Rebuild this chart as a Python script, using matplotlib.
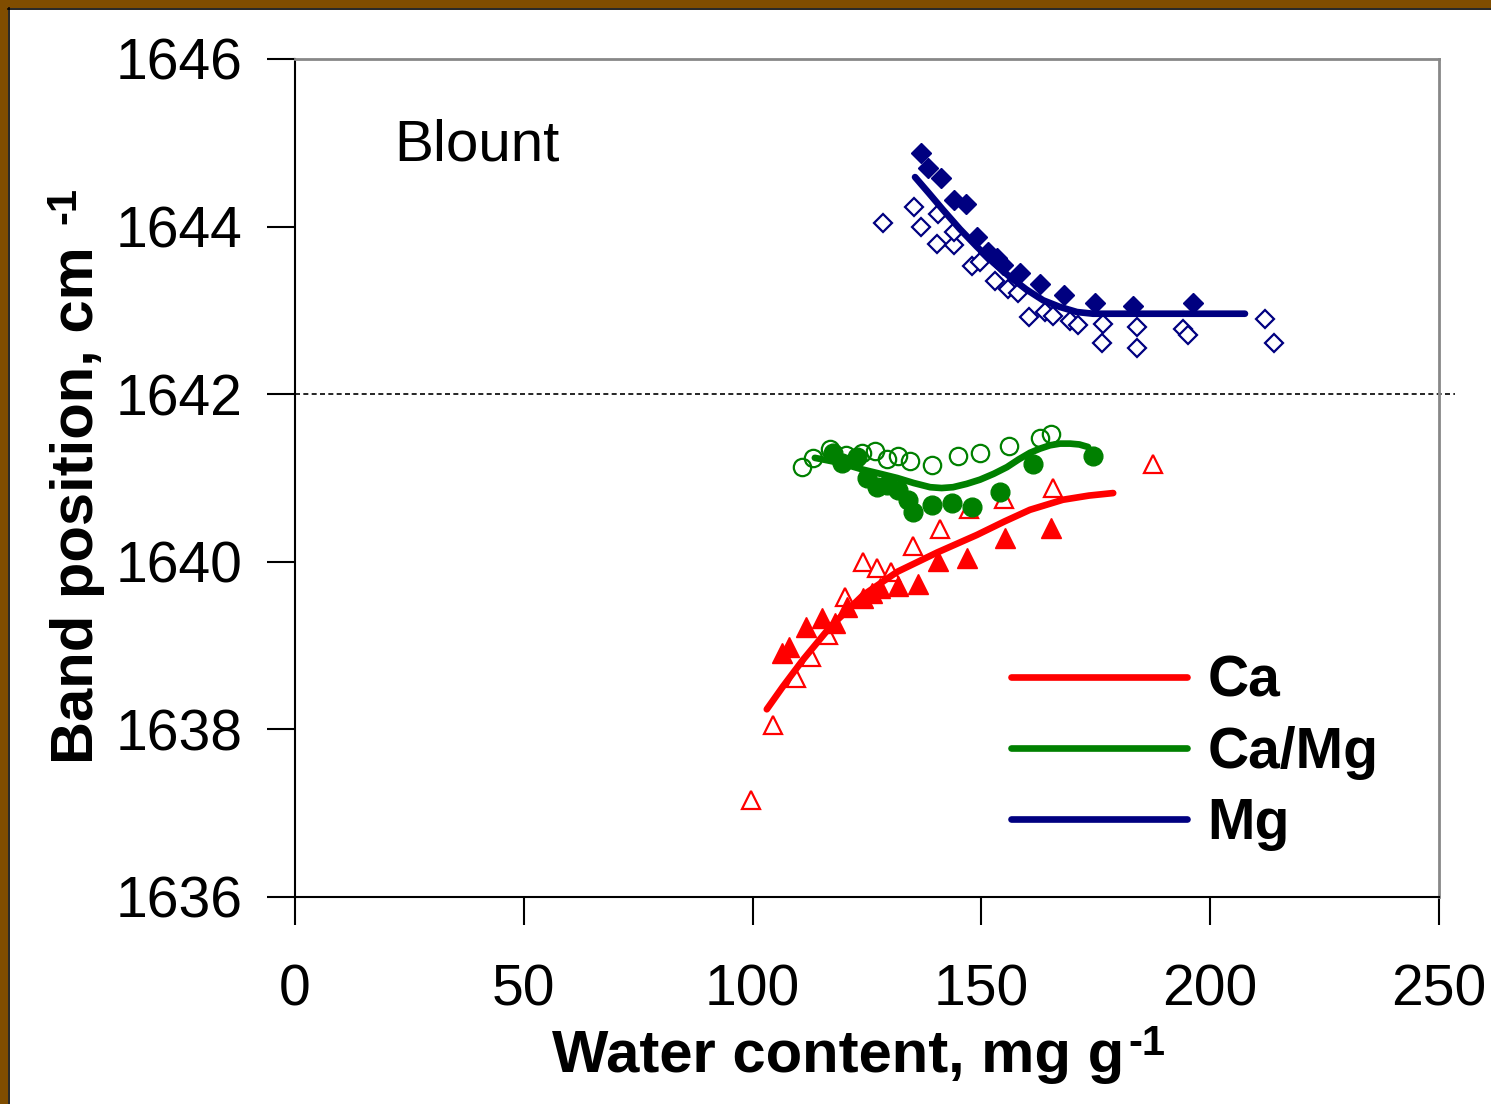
import numpy as np
import matplotlib.pyplot as plt
from matplotlib.patches import Rectangle

plt.rcParams['font.family'] = ['Liberation Sans', 'DejaVu Sans']

# Mg, filled diamonds
mg_fill_x = [136.8, 138.3, 141.2, 144.0, 146.6, 149.0, 151.4, 153.4, 154.7, 158.4,
             162.8, 168.0, 174.8, 183.1, 196.2]
mg_fill_y = [1644.88, 1644.70, 1644.58, 1644.32, 1644.27, 1643.88, 1643.70, 1643.63,
             1643.54, 1643.45, 1643.32, 1643.18, 1643.09, 1643.05, 1643.09]
# Mg, open diamonds
mg_open_x = [128.5, 135.3, 136.8, 140.5, 140.3, 144.0, 144.0, 147.9, 149.7, 153.0,
             155.8, 158.0, 160.4, 163.9, 165.6, 169.4, 171.1, 176.6, 176.4, 184.0,
             184.0, 194.1, 195.1, 212.0, 213.9]
mg_open_y = [1644.04, 1644.23, 1643.99, 1644.15, 1643.79, 1643.78, 1643.94, 1643.53,
             1643.58, 1643.35, 1643.26, 1643.21, 1642.92, 1642.98, 1642.93, 1642.87,
             1642.83, 1642.84, 1642.61, 1642.80, 1642.55, 1642.78, 1642.71, 1642.90,
             1642.61]
mg_fit_x = [135.5, 138.5, 141.6, 145.3, 149.0, 152.6, 156.2, 159.8, 163.5, 167.2,
            170.9, 174.4, 190.0, 207.6]
mg_fit_y = [1644.59, 1644.40, 1644.20, 1643.97, 1643.76, 1643.57, 1643.40, 1643.25,
            1643.12, 1643.04, 1642.98, 1642.96, 1642.96, 1642.96]

# Ca/Mg, filled circles
camg_fill_x = [117.6, 119.5, 122.8, 125.0, 127.2, 129.4, 131.8, 134.0, 135.1, 139.2,
               143.6, 147.9, 154.1, 161.3, 174.4]
camg_fill_y = [1641.30, 1641.18, 1641.25, 1641.00, 1640.89, 1640.92, 1640.86, 1640.74,
               1640.59, 1640.68, 1640.70, 1640.65, 1640.83, 1641.17, 1641.26]
# Ca/Mg, open circles
camg_open_x = [110.8, 113.2, 116.9, 120.4, 123.9, 126.7, 129.4, 131.8, 134.4, 139.2,
               144.9, 149.7, 156.0, 162.8, 165.2]
camg_open_y = [1641.13, 1641.24, 1641.35, 1641.27, 1641.30, 1641.32, 1641.23, 1641.26,
               1641.20, 1641.16, 1641.26, 1641.30, 1641.38, 1641.48, 1641.53]
camg_fit_x = [113.6, 116.4, 119.1, 121.6, 124.1, 127.9, 131.6, 135.2, 138.8, 141.3,
              143.8, 146.8, 149.7, 152.7, 155.6, 158.1, 160.6, 162.8, 165.0, 167.2,
              169.4, 171.4, 173.3]
camg_fit_y = [1641.24, 1641.21, 1641.18, 1641.14, 1641.10, 1641.05, 1641.00, 1640.94,
              1640.89, 1640.88, 1640.89, 1640.93, 1640.98, 1641.05, 1641.13, 1641.22,
              1641.30, 1641.35, 1641.39, 1641.41, 1641.41, 1641.40, 1641.37]

# Ca, filled triangles
ca_fill_x = [106.4, 108.0, 111.7, 115.2, 118.0, 120.6, 124.1, 126.1, 127.8, 131.8,
             136.1, 140.5, 146.9, 155.2, 165.2]
ca_fill_y = [1638.91, 1638.98, 1639.22, 1639.33, 1639.27, 1639.46, 1639.57, 1639.63,
             1639.69, 1639.71, 1639.73, 1640.01, 1640.05, 1640.28, 1640.40]
# Ca, open triangles
ca_open_x = [99.7, 104.5, 109.5, 112.8, 116.5, 120.2, 124.1, 127.2, 130.2, 135.1,
             141.0, 147.3, 154.9, 165.6, 187.5]
ca_open_y = [1637.16, 1638.05, 1638.61, 1638.86, 1639.13, 1639.58, 1640.00, 1639.93,
             1639.88, 1640.19, 1640.39, 1640.63, 1640.75, 1640.88, 1641.17]
ca_fit_x = [103.1, 106.6, 111.0, 116.9, 124.1, 131.6, 140.3, 149.0, 155.0, 160.6,
            167.8, 173.5, 178.8]
ca_fit_y = [1638.24, 1638.51, 1638.83, 1639.22, 1639.60, 1639.88, 1640.11, 1640.32,
            1640.48, 1640.62, 1640.74, 1640.79, 1640.82]

red = '#FF0000'
green = '#008000'
navy = '#000080'

fig = plt.figure(figsize=(14.91, 11.04), dpi=100)
ax = fig.add_axes([0.1979, 0.1875, 0.7672, 0.7591])

# open markers first, then fits, then filled markers
ax.plot(ca_open_x, ca_open_y, '^', ms=13.5, mfc='white', mec=red, mew=1.6, ls='none', zorder=2)
ax.plot(camg_open_x, camg_open_y, 'o', ms=12.5, mfc='none', mec=green, mew=1.6, ls='none', zorder=2)
ax.plot(mg_open_x, mg_open_y, 'D', ms=9.5, mfc='white', mec=navy, mew=1.6, ls='none', zorder=2)

l_ca, = ax.plot(ca_fit_x, ca_fit_y, color=red, lw=4.8, solid_capstyle='round', zorder=3, label='Ca')
l_camg, = ax.plot(camg_fit_x, camg_fit_y, color=green, lw=4.8, solid_capstyle='round', zorder=3, label='Ca/Mg')
l_mg, = ax.plot(mg_fit_x, mg_fit_y, color=navy, lw=4.8, solid_capstyle='round', zorder=3, label='Mg')

ax.plot(ca_fill_x, ca_fill_y, '^', ms=14.5, color=red, ls='none', zorder=4)
ax.plot(camg_fill_x, camg_fill_y, 'o', ms=13.5, color=green, ls='none', zorder=4)
ax.plot(mg_fill_x, mg_fill_y, 'D', ms=10.5, color=navy, ls='none', zorder=4)

# dashed reference line, runs a bit past the right frame
ax.plot([0, 253.5], [1642, 1642], color='black', lw=1.2, ls=(0, (3, 2)), clip_on=False, zorder=1)

ax.set_xlim(0, 250)
ax.set_ylim(1636, 1646)
ax.set_xticks([0, 50, 100, 150, 200, 250])
ax.set_yticks([1636, 1638, 1640, 1642, 1644, 1646])
ax.tick_params(direction='out', length=20, width=1.5, labelsize=41, color='black')
ax.tick_params(axis='y', pad=18)
ax.tick_params(axis='x', pad=28)

ax.spines['left'].set_linewidth(1.5)
ax.spines['bottom'].set_linewidth(1.5)
ax.spines['top'].set_color('#888888')
ax.spines['right'].set_color('#888888')
ax.spines['top'].set_linewidth(2)
ax.spines['right'].set_linewidth(2)

ax.set_xlabel('Water content, mg g', fontsize=43, fontweight='bold')
ax.set_ylabel('Band position, cm', fontsize=43, fontweight='bold')
ax.xaxis.set_label_coords(0.475, -0.158)
ax.yaxis.set_label_coords(-0.166, 0.468)

# superscripts drawn with a plain hyphen, as in the original
ax.annotate('-1', xy=(1, 1), xycoords=ax.xaxis.label, xytext=(3, 4), textcoords='offset points',
            ha='left', va='top', fontsize=30, fontweight='bold')
ax.annotate('-1', xy=(0, 1), xycoords=ax.yaxis.label, xytext=(-4, 16), textcoords='offset points',
            ha='left', va='bottom', rotation=90, fontsize=30, fontweight='bold')

ax.text(0.087, 0.897, 'Blount', transform=ax.transAxes, fontsize=42, va='center', ha='left')

ax.legend(handles=[l_ca, l_camg, l_mg], loc='lower left', bbox_to_anchor=(0.581, -0.006),
          frameon=False, handlelength=3.1, handletextpad=0.35, labelspacing=0.3,
          prop={'size': 41, 'weight': 'bold'})

# brown frame on top and left edges
fig.patches.append(Rectangle((0, 1 - 8 / 1104), 1, 8 / 1104, transform=fig.transFigure,
                             facecolor='#804D00', edgecolor='none', zorder=0))
fig.patches.append(Rectangle((0, 0), 8 / 1491, 1, transform=fig.transFigure,
                             facecolor='#804D00', edgecolor='none', zorder=0))
fig.lines.append(plt.Line2D([8 / 1491, 1], [1 - 8.5 / 1104, 1 - 8.5 / 1104],
                            transform=fig.transFigure, color='black', lw=1.2))
fig.lines.append(plt.Line2D([8.5 / 1491, 8.5 / 1491], [0, 1 - 8 / 1104],
                            transform=fig.transFigure, color='black', lw=1.2))

fig.savefig('out.png', dpi=100)
